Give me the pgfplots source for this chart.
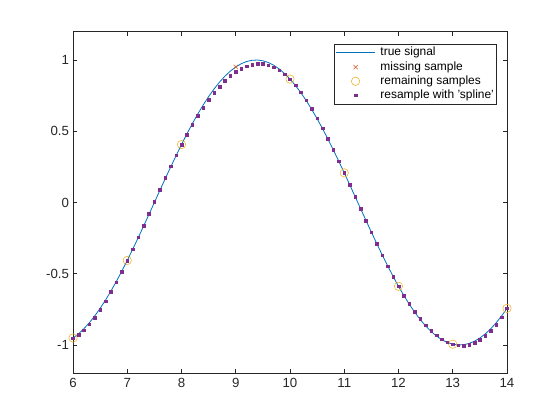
\documentclass[border=0pt]{standalone}
\usepackage{fontspec}
\setmainfont{Liberation Sans}
\usepackage{pgfplots}
\pgfplotsset{compat=1.18}
\definecolor{mblue}{rgb}{0,0.447,0.741}
\definecolor{morange}{rgb}{0.85,0.325,0.098}
\definecolor{myellow}{rgb}{0.929,0.694,0.125}
\definecolor{mpurple}{rgb}{0.494,0.184,0.556}
\definecolor{maxis}{rgb}{0.15,0.15,0.15}
\pgfplotsset{
  mlegend/.style={legend image code/.code={\draw[mark repeat=2,mark phase=2,##1] plot coordinates {(0bp,0bp) (19.5bp,0bp) (39bp,0bp)};}}
}
\begin{document}
\begin{tikzpicture}
\useasboundingbox (-73bp,-46.5bp) rectangle (487bp,373.5bp);
\begin{axis}[
  scale only axis,
  width=434bp, height=342bp,
  xmin=6, xmax=14, ymin=-1.2, ymax=1.2,
  xtick={6,7,...,14},
  ytick={-1,-0.5,0,0.5,1},
  yticklabels={-1,-0.5,0,0.5,1},
  tick align=inside,
  tick pos=both,
  major tick length=4.3bp,
  axis line style={maxis, line width=0.6bp},
  tick style={maxis, line width=0.6bp},
  /pgf/number format/assume math mode=true,
  ticklabel style={font=\fontsize{13.3}{16}\selectfont, text=maxis},
  xticklabel style={yshift=-1bp},
  yticklabel style={xshift=-0.5bp},
  mlegend,
  legend style={at={(axis description cs:1,1)}, anchor=north east,
    xshift=-10.3bp, yshift=-12.5bp,
    draw=maxis, line width=0.6bp, fill=white,
    font=\fontsize{12}{14}\selectfont,
    inner xsep=1.5bp, inner ysep=1.5bp, row sep=0pt,
    nodes={inner sep=1bp, text height=9.2bp, text depth=3bp},
    /tikz/column 1/.style={column sep=4bp}},
  legend cell align=left,
]
\addplot[mblue, line width=0.8bp, no markers] table {
6.0 -0.9511
6.1 -0.9219
6.2 -0.8862
6.3 -0.8443
6.4 -0.7965
6.5 -0.7431
6.6 -0.6845
6.7 -0.6211
6.8 -0.5534
6.9 -0.4818
7.0 -0.4067
7.1 -0.3289
7.2 -0.2487
7.3 -0.1668
7.4 -0.0837
7.5 0.0000
7.6 0.0837
7.7 0.1668
7.8 0.2487
7.9 0.3289
8.0 0.4067
8.1 0.4818
8.2 0.5534
8.3 0.6211
8.4 0.6845
8.5 0.7431
8.6 0.7965
8.7 0.8443
8.8 0.8862
8.9 0.9219
9.0 0.9511
9.1 0.9736
9.2 0.9893
9.3 0.9980
9.4 0.9998
9.5 0.9945
9.6 0.9823
9.7 0.9632
9.8 0.9373
9.9 0.9048
10.0 0.8660
10.1 0.8211
10.2 0.7705
10.3 0.7145
10.4 0.6534
10.5 0.5878
10.6 0.5180
10.7 0.4446
10.8 0.3681
10.9 0.2890
11.0 0.2079
11.1 0.1253
11.2 0.0419
11.3 -0.0419
11.4 -0.1253
11.5 -0.2079
11.6 -0.2890
11.7 -0.3681
11.8 -0.4446
11.9 -0.5180
12.0 -0.5878
12.1 -0.6534
12.2 -0.7145
12.3 -0.7705
12.4 -0.8211
12.5 -0.8660
12.6 -0.9048
12.7 -0.9373
12.8 -0.9632
12.9 -0.9823
13.0 -0.9945
13.1 -0.9998
13.2 -0.9980
13.3 -0.9893
13.4 -0.9736
13.5 -0.9511
13.6 -0.9219
13.7 -0.8862
13.8 -0.8443
13.9 -0.7965
14.0 -0.7431
};
\addlegendentry{true signal}
\addplot[only marks, morange, mark=x, mark size=3bp, line width=0.5bp] table {
9 0.9511
};
\addlegendentry{missing sample}
\addplot[only marks, myellow, mark=o, mark size=4.2bp, line width=0.55bp] table {
6 -0.9511
7 -0.4067
8 0.4067
10 0.8660
11 0.2079
12 -0.5878
13 -0.9945
14 -0.7431
};
\addlegendentry{remaining samples}
\addplot[only marks, mpurple, mark=square*, mark size=1.3bp, mark options={draw=none, fill=mpurple}] table {
6.0 -0.951057
6.1 -0.927318
6.2 -0.895020
6.3 -0.854814
6.4 -0.807353
6.5 -0.753289
6.6 -0.693273
6.7 -0.627959
6.8 -0.557996
6.9 -0.484038
7.0 -0.406737
7.1 -0.326744
7.2 -0.244712
7.3 -0.161291
7.4 -0.077136
7.5 0.007104
7.6 0.090775
7.7 0.173226
7.8 0.253804
7.9 0.331859
8.0 0.406737
8.1 0.477866
8.2 0.544990
8.3 0.607931
8.4 0.666511
8.5 0.720554
8.6 0.769881
8.7 0.814316
8.8 0.853681
8.9 0.887799
9.0 0.916491
9.1 0.939586
9.2 0.956893
9.3 0.968247
9.4 0.973466
9.5 0.972374
9.6 0.964692
9.7 0.950544
9.8 0.929452
9.9 0.901338
10.0 0.866025
10.1 0.823466
10.2 0.774133
10.3 0.718629
10.4 0.657556
10.5 0.591517
10.6 0.521114
10.7 0.446949
10.8 0.369626
10.9 0.289746
11.0 0.207912
11.1 0.124724
11.2 0.040773
11.3 -0.043354
11.4 -0.127069
11.5 -0.209784
11.6 -0.290911
11.7 -0.369862
11.8 -0.446050
11.9 -0.518887
12.0 -0.587785
12.1 -0.652220
12.2 -0.711922
12.3 -0.766686
12.4 -0.816307
12.5 -0.860579
12.6 -0.899298
12.7 -0.932256
12.8 -0.959250
12.9 -0.980074
13.0 -0.994522
13.1 -1.002389
13.2 -1.003469
13.3 -0.997557
13.4 -0.984448
13.5 -0.963936
13.6 -0.935816
13.7 -0.899882
13.8 -0.855930
13.9 -0.803752
14.0 -0.743145
};
\addlegendentry{resample with 'spline'}
\end{axis}
\end{tikzpicture}
\end{document}
